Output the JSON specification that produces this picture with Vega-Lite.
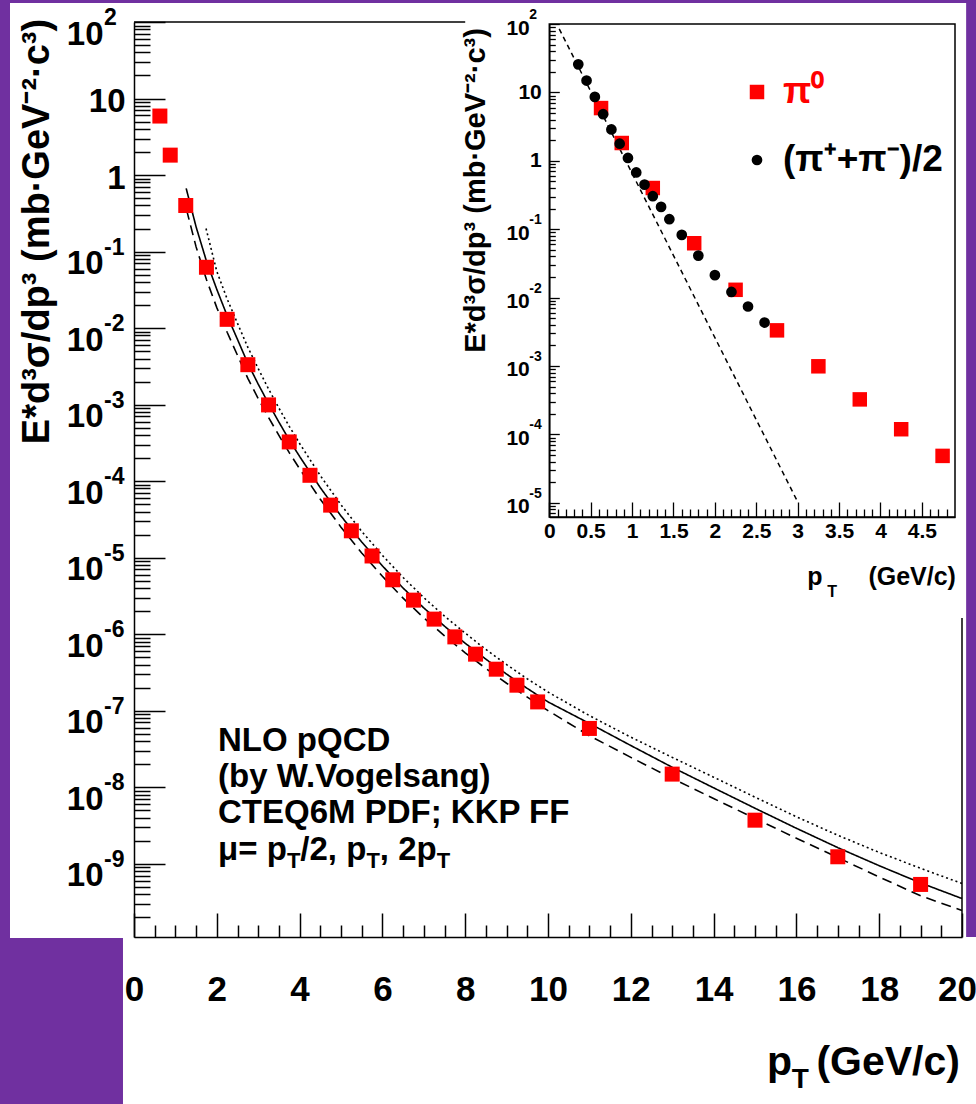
{
  "$schema": "https://vega.github.io/schema/vega-lite/v6.json",
  "width": 966,
  "height": 1101,
  "autosize": {"type": "none"},
  "padding": {"left": 10, "top": 3, "right": 0, "bottom": 0},
  "background": "#7030A0",
  "config": {
    "view": {"fill": "white", "stroke": null},
    "font": "Liberation Sans",
    "axis": {"grid": false, "labelColor": "black", "tickColor": "black", "domainColor": "black", "titleColor": "black", "labelFlush": false, "labelOverlap": false, "labelBound": false, "labelFont": "Liberation Sans", "titleFont": "Liberation Sans", "labelFontWeight": "bold", "titleFontWeight": "bold"},
    "text": {"font": "Liberation Sans", "fontWeight": "bold", "color": "black"}
  },
  "datasets": {
    "pions": [
      {"series": "π⁰", "pT": 0.625, "val": 5.9},
      {"series": "π⁰", "pT": 0.875, "val": 1.82},
      {"series": "π⁰", "pT": 1.25, "val": 0.40},
      {"series": "π⁰", "pT": 1.75, "val": 0.0623},
      {"series": "π⁰", "pT": 2.25, "val": 0.0130},
      {"series": "π⁰", "pT": 2.75, "val": 3.32e-3},
      {"series": "π⁰", "pT": 3.25, "val": 9.9e-4},
      {"series": "π⁰", "pT": 3.75, "val": 3.25e-4},
      {"series": "π⁰", "pT": 4.25, "val": 1.19e-4},
      {"series": "π⁰", "pT": 4.75, "val": 4.85e-5},
      {"series": "π⁰", "pT": 5.25, "val": 2.24e-5},
      {"series": "π⁰", "pT": 5.75, "val": 1.05e-5},
      {"series": "π⁰", "pT": 6.25, "val": 5.13e-6},
      {"series": "π⁰", "pT": 6.75, "val": 2.78e-6},
      {"series": "π⁰", "pT": 7.25, "val": 1.57e-6},
      {"series": "π⁰", "pT": 7.75, "val": 9.2e-7},
      {"series": "π⁰", "pT": 8.25, "val": 5.47e-7},
      {"series": "π⁰", "pT": 8.75, "val": 3.48e-7},
      {"series": "π⁰", "pT": 9.25, "val": 2.15e-7},
      {"series": "π⁰", "pT": 9.75, "val": 1.3e-7},
      {"series": "π⁰", "pT": 11, "val": 5.85e-8},
      {"series": "π⁰", "pT": 13, "val": 1.48e-8},
      {"series": "π⁰", "pT": 15, "val": 3.7e-9},
      {"series": "π⁰", "pT": 17, "val": 1.23e-9},
      {"series": "π⁰", "pT": 19, "val": 5.35e-10},
      {"series": "(π⁺+π⁻)/2", "pT": 0.35, "val": 25.7},
      {"series": "(π⁺+π⁻)/2", "pT": 0.45, "val": 14.9},
      {"series": "(π⁺+π⁻)/2", "pT": 0.55, "val": 8.59},
      {"series": "(π⁺+π⁻)/2", "pT": 0.65, "val": 4.80},
      {"series": "(π⁺+π⁻)/2", "pT": 0.75, "val": 2.87},
      {"series": "(π⁺+π⁻)/2", "pT": 0.85, "val": 1.78},
      {"series": "(π⁺+π⁻)/2", "pT": 0.95, "val": 1.10},
      {"series": "(π⁺+π⁻)/2", "pT": 1.05, "val": 0.676},
      {"series": "(π⁺+π⁻)/2", "pT": 1.15, "val": 0.448},
      {"series": "(π⁺+π⁻)/2", "pT": 1.25, "val": 0.304},
      {"series": "(π⁺+π⁻)/2", "pT": 1.35, "val": 0.212},
      {"series": "(π⁺+π⁻)/2", "pT": 1.45, "val": 0.140},
      {"series": "(π⁺+π⁻)/2", "pT": 1.6, "val": 0.0826},
      {"series": "(π⁺+π⁻)/2", "pT": 1.8, "val": 0.0411},
      {"series": "(π⁺+π⁻)/2", "pT": 2.0, "val": 0.0213},
      {"series": "(π⁺+π⁻)/2", "pT": 2.2, "val": 0.0121},
      {"series": "(π⁺+π⁻)/2", "pT": 2.4, "val": 7.41e-3},
      {"series": "(π⁺+π⁻)/2", "pT": 2.6, "val": 4.32e-3}
    ],
    "nlo": [
      {"mu": "pT", "pT": 1.26, "val": 0.67},
      {"mu": "pT", "pT": 1.5, "val": 0.21},
      {"mu": "pT", "pT": 1.75, "val": 0.075},
      {"mu": "pT", "pT": 2, "val": 0.032},
      {"mu": "pT", "pT": 2.25, "val": 0.0145},
      {"mu": "pT", "pT": 2.5, "val": 0.0071},
      {"mu": "pT", "pT": 2.75, "val": 3.45e-3},
      {"mu": "pT", "pT": 3, "val": 1.85e-3},
      {"mu": "pT", "pT": 3.25, "val": 1.03e-3},
      {"mu": "pT", "pT": 3.5, "val": 5.9e-4},
      {"mu": "pT", "pT": 3.75, "val": 3.45e-4},
      {"mu": "pT", "pT": 4, "val": 2.1e-4},
      {"mu": "pT", "pT": 4.5, "val": 8.2e-5},
      {"mu": "pT", "pT": 5, "val": 3.5e-5},
      {"mu": "pT", "pT": 5.5, "val": 1.6e-5},
      {"mu": "pT", "pT": 6, "val": 7.8e-6},
      {"mu": "pT", "pT": 6.5, "val": 4.0e-6},
      {"mu": "pT", "pT": 7, "val": 2.2e-6},
      {"mu": "pT", "pT": 7.5, "val": 1.27e-6},
      {"mu": "pT", "pT": 8, "val": 7.6e-7},
      {"mu": "pT", "pT": 8.5, "val": 4.7e-7},
      {"mu": "pT", "pT": 9, "val": 3.0e-7},
      {"mu": "pT", "pT": 9.5, "val": 1.95e-7},
      {"mu": "pT", "pT": 10, "val": 1.3e-7},
      {"mu": "pT", "pT": 11, "val": 6.8e-8},
      {"mu": "pT", "pT": 12, "val": 3.5e-8},
      {"mu": "pT", "pT": 13, "val": 1.82e-8},
      {"mu": "pT", "pT": 14, "val": 9.8e-9},
      {"mu": "pT", "pT": 15, "val": 5.3e-9},
      {"mu": "pT", "pT": 16, "val": 2.9e-9},
      {"mu": "pT", "pT": 17, "val": 1.62e-9},
      {"mu": "pT", "pT": 18, "val": 9.4e-10},
      {"mu": "pT", "pT": 19, "val": 5.6e-10},
      {"mu": "pT", "pT": 20, "val": 3.5e-10},
      {"mu": "2pT", "pT": 1.27, "val": 0.35},
      {"mu": "2pT", "pT": 1.5, "val": 0.115},
      {"mu": "2pT", "pT": 1.75, "val": 0.043},
      {"mu": "2pT", "pT": 2, "val": 0.0185},
      {"mu": "2pT", "pT": 2.25, "val": 0.0088},
      {"mu": "2pT", "pT": 2.5, "val": 0.0044},
      {"mu": "2pT", "pT": 2.75, "val": 2.2e-3},
      {"mu": "2pT", "pT": 3, "val": 1.2e-3},
      {"mu": "2pT", "pT": 3.25, "val": 6.8e-4},
      {"mu": "2pT", "pT": 3.5, "val": 3.95e-4},
      {"mu": "2pT", "pT": 3.75, "val": 2.35e-4},
      {"mu": "2pT", "pT": 4, "val": 1.45e-4},
      {"mu": "2pT", "pT": 4.5, "val": 5.8e-5},
      {"mu": "2pT", "pT": 5, "val": 2.5e-5},
      {"mu": "2pT", "pT": 5.5, "val": 1.15e-5},
      {"mu": "2pT", "pT": 6, "val": 5.7e-6},
      {"mu": "2pT", "pT": 6.5, "val": 2.95e-6},
      {"mu": "2pT", "pT": 7, "val": 1.63e-6},
      {"mu": "2pT", "pT": 7.5, "val": 9.5e-7},
      {"mu": "2pT", "pT": 8, "val": 5.7e-7},
      {"mu": "2pT", "pT": 8.5, "val": 3.55e-7},
      {"mu": "2pT", "pT": 9, "val": 2.28e-7},
      {"mu": "2pT", "pT": 9.5, "val": 1.5e-7},
      {"mu": "2pT", "pT": 10, "val": 1.0e-7},
      {"mu": "2pT", "pT": 11, "val": 4.7e-8},
      {"mu": "2pT", "pT": 12, "val": 2.45e-8},
      {"mu": "2pT", "pT": 13, "val": 1.3e-8},
      {"mu": "2pT", "pT": 14, "val": 7.1e-9},
      {"mu": "2pT", "pT": 15, "val": 3.9e-9},
      {"mu": "2pT", "pT": 16, "val": 2.15e-9},
      {"mu": "2pT", "pT": 17, "val": 1.2e-9},
      {"mu": "2pT", "pT": 18, "val": 6.7e-10},
      {"mu": "2pT", "pT": 19, "val": 3.8e-10},
      {"mu": "2pT", "pT": 20, "val": 2.45e-10},
      {"mu": "pT/2", "pT": 1.74, "val": 0.2},
      {"mu": "pT/2", "pT": 2, "val": 0.055},
      {"mu": "pT/2", "pT": 2.25, "val": 0.024},
      {"mu": "pT/2", "pT": 2.5, "val": 0.0115},
      {"mu": "pT/2", "pT": 2.75, "val": 5.6e-3},
      {"mu": "pT/2", "pT": 3, "val": 2.95e-3},
      {"mu": "pT/2", "pT": 3.25, "val": 1.6e-3},
      {"mu": "pT/2", "pT": 3.5, "val": 9.0e-4},
      {"mu": "pT/2", "pT": 3.75, "val": 5.2e-4},
      {"mu": "pT/2", "pT": 4, "val": 3.1e-4},
      {"mu": "pT/2", "pT": 4.5, "val": 1.18e-4},
      {"mu": "pT/2", "pT": 5, "val": 4.9e-5},
      {"mu": "pT/2", "pT": 5.5, "val": 2.2e-5},
      {"mu": "pT/2", "pT": 6, "val": 1.07e-5},
      {"mu": "pT/2", "pT": 6.5, "val": 5.5e-6},
      {"mu": "pT/2", "pT": 7, "val": 3.0e-6},
      {"mu": "pT/2", "pT": 7.5, "val": 1.72e-6},
      {"mu": "pT/2", "pT": 8, "val": 1.03e-6},
      {"mu": "pT/2", "pT": 8.5, "val": 6.3e-7},
      {"mu": "pT/2", "pT": 9, "val": 4.0e-7},
      {"mu": "pT/2", "pT": 9.5, "val": 2.6e-7},
      {"mu": "pT/2", "pT": 10, "val": 1.75e-7},
      {"mu": "pT/2", "pT": 11, "val": 8.6e-8},
      {"mu": "pT/2", "pT": 12, "val": 4.5e-8},
      {"mu": "pT/2", "pT": 13, "val": 2.45e-8},
      {"mu": "pT/2", "pT": 14, "val": 1.35e-8},
      {"mu": "pT/2", "pT": 15, "val": 7.4e-9},
      {"mu": "pT/2", "pT": 16, "val": 4.1e-9},
      {"mu": "pT/2", "pT": 17, "val": 2.35e-9},
      {"mu": "pT/2", "pT": 18, "val": 1.4e-9},
      {"mu": "pT/2", "pT": 19, "val": 8.7e-10},
      {"mu": "pT/2", "pT": 20, "val": 5.5e-10}
    ],
    "fit": [
      {"pT": 0.12, "val": 85},
      {"pT": 3.0, "val": 1.03e-5}
    ],
    "expMain": [
      {"v": 100, "e": "2"}, {"v": 0.1, "e": "-1"}, {"v": 0.01, "e": "-2"}, {"v": 0.001, "e": "-3"},
      {"v": 1e-4, "e": "-4"}, {"v": 1e-5, "e": "-5"}, {"v": 1e-6, "e": "-6"}, {"v": 1e-7, "e": "-7"},
      {"v": 1e-8, "e": "-8"}, {"v": 1e-9, "e": "-9"}
    ],
    "expInset": [
      {"v": 100, "e": "2"}, {"v": 0.1, "e": "-1"}, {"v": 0.01, "e": "-2"}, {"v": 0.001, "e": "-3"},
      {"v": 1e-4, "e": "-4"}, {"v": 1e-5, "e": "-5"}
    ]
  },
  "resolve": {"scale": {"x": "independent", "y": "independent"}, "axis": {"x": "independent", "y": "independent"}},
  "layer": [
    {
      "resolve": {"axis": {"x": "independent", "y": "independent"}},
      "layer": [
        {
          "data": {"values": [{}]},
          "mark": {"type": "rule", "color": "black", "strokeWidth": 1.5},
          "encoding": {
            "x": {"datum": 0, "type": "quantitative",
              "scale": {"domain": [0, 20], "range": [124, 952], "nice": false, "zero": false},
              "axis": {"orient": "bottom", "offset": -167, "values": [0, 2, 4, 6, 8, 10, 12, 14, 16, 18, 20], "ticks": false, "domain": true, "domainWidth": 1.5, "labelFontSize": 35, "labelPadding": 52, "labelBaseline": "middle",
                "labelOffset": {"condition": {"test": "datum.value == 20", "value": -5}, "value": 0}, "format": "d", "title": null}},
            "x2": {"datum": 8.0},
            "y": {"datum": 100, "type": "quantitative",
              "scale": {"type": "log", "domain": [1.1e-10, 100], "range": [934, 19], "nice": false},
              "axis": {"orient": "left", "offset": -124, "values": [1e-9, 1e-8, 1e-7, 1e-6, 1e-5, 1e-4, 1e-3, 1e-2, 0.1, 1, 10, 100], "ticks": false, "domain": true, "domainWidth": 1.5,
                "labelExpr": "datum.value == 1 ? '1' : '10'", "labelFontSize": 33, "labelAlign": "right", "labelBaseline": "middle",
                "labelPadding": {"condition": {"test": "datum.value == 1 || datum.value == 10", "value": 9}, "value": 31},
                "labelOffset": {"condition": {"test": "datum.value == 1 || datum.value == 10", "value": 3}, "value": 12},
                "title": "E*d³σ/dp³ (mb·GeV⁻²·c³)", "titleFontSize": 38, "titleX": -97, "titleY": 228, "titleAngle": 270, "titleAlign": "center", "titleBaseline": "middle"}}
          }
        },
        {
          "data": {"values": [{}]},
          "mark": {"type": "rule", "color": "black", "strokeWidth": 1.5},
          "encoding": {
            "x": {"datum": 20, "type": "quantitative",
              "axis": {"orient": "bottom", "offset": -167, "values": [0, 2, 4, 6, 8, 10, 12, 14, 16, 18, 20], "labels": false, "domain": false, "ticks": true, "tickSize": -24, "tickWidth": 1.5, "title": null}},
            "y": {"datum": 1.1e-10, "type": "quantitative",
              "axis": {"orient": "left", "offset": -124, "values": [1e-9, 1e-8, 1e-7, 1e-6, 1e-5, 1e-4, 1e-3, 1e-2, 0.1, 1, 10, 100], "labels": false, "domain": false, "ticks": true, "tickSize": -31, "tickWidth": 1.5, "title": null}},
            "y2": {"datum": 1.62e-6}
          }
        },
        {
          "data": {"name": "nlo"},
          "mark": {"type": "line", "color": "black", "strokeWidth": 1.6},
          "encoding": {
            "x": {"field": "pT", "type": "quantitative",
              "axis": {"orient": "bottom", "offset": -167, "values": [0.5, 1, 1.5, 2.5, 3, 3.5, 4.5, 5, 5.5, 6.5, 7, 7.5, 8.5, 9, 9.5, 10.5, 11, 11.5, 12.5, 13, 13.5, 14.5, 15, 15.5, 16.5, 17, 17.5, 18.5, 19, 19.5], "labels": false, "domain": false, "ticks": true, "tickSize": -12, "tickWidth": 1.5, "title": null}},
            "y": {"field": "val", "type": "quantitative",
              "axis": {"orient": "left", "offset": -124, "values": [2e-10, 3e-10, 4e-10, 5e-10, 6e-10, 7e-10, 8e-10, 9e-10, 2e-9, 3e-9, 4e-9, 5e-9, 6e-9, 7e-9, 8e-9, 9e-9, 2e-8, 3e-8, 4e-8, 5e-8, 6e-8, 7e-8, 8e-8, 9e-8, 2e-7, 3e-7, 4e-7, 5e-7, 6e-7, 7e-7, 8e-7, 9e-7, 2e-6, 3e-6, 4e-6, 5e-6, 6e-6, 7e-6, 8e-6, 9e-6, 2e-5, 3e-5, 4e-5, 5e-5, 6e-5, 7e-5, 8e-5, 9e-5, 2e-4, 3e-4, 4e-4, 5e-4, 6e-4, 7e-4, 8e-4, 9e-4, 0.002, 0.003, 0.004, 0.005, 0.006, 0.007, 0.008, 0.009, 0.02, 0.03, 0.04, 0.05, 0.06, 0.07, 0.08, 0.09, 0.2, 0.3, 0.4, 0.5, 0.6, 0.7, 0.8, 0.9, 2, 3, 4, 5, 6, 7, 8, 9, 20, 30, 40, 50, 60, 70, 80, 90], "labels": false, "domain": false, "ticks": true, "tickSize": -16, "tickWidth": 1.5, "title": null}},
            "strokeDash": {"field": "mu", "type": "nominal", "scale": {"domain": ["pT", "2pT", "pT/2"], "range": [[1, 0], [10, 6], [2, 3]]}, "legend": null}
          }
        },
        {
          "data": {"name": "pions"},
          "transform": [{"filter": "datum.series == 'π⁰'"}],
          "mark": {"type": "square", "color": "#ff0000", "size": 225, "opacity": 1},
          "encoding": {
            "x": {"field": "pT", "type": "quantitative", "axis": null},
            "y": {"field": "val", "type": "quantitative", "axis": null}
          }
        },
        {
          "data": {"name": "expMain"},
          "mark": {"type": "text", "align": "left", "baseline": "middle", "dx": -30, "dy": -4, "fontSize": 23},
          "encoding": {
            "x": {"datum": 0, "type": "quantitative", "axis": null},
            "y": {"field": "v", "type": "quantitative", "axis": null},
            "text": {"field": "e"}
          }
        },
        {
          "data": {"values": [{}]},
          "mark": {"type": "rect", "color": "#7030A0"},
          "encoding": {
            "x": {"datum": -3.5, "type": "quantitative", "axis": null},
            "x2": {"datum": -0.266},
            "y": {"datum": 1.064e-10, "type": "quantitative", "axis": null},
            "y2": {"datum": 1e-14}
          }
        },
        {
          "data": {"values": [{}]},
          "mark": {"type": "rect", "color": "#7030A0"},
          "encoding": {
            "x": {"datum": 20.1, "type": "quantitative", "axis": null},
            "x2": {"datum": 21},
            "y": {"datum": 1.1e-10, "type": "quantitative", "axis": null},
            "y2": {"datum": 1e3}
          }
        },
        {
          "data": {"values": [{}]},
          "mark": {"type": "text", "text": ["NLO pQCD", "(by W.Vogelsang)", "CTEQ6M PDF; KKP FF"], "lineHeight": 36, "align": "left", "baseline": "alphabetic", "fontSize": 33},
          "encoding": {
            "x": {"datum": 2.029, "type": "quantitative", "axis": null},
            "y": {"datum": 2.96e-8, "type": "quantitative", "axis": null}
          }
        },
        {
          "data": {"values": [{}]},
          "mark": {"type": "text", "text": "μ= p", "align": "left", "baseline": "alphabetic", "fontSize": 33},
          "encoding": {
            "x": {"datum": 2.029, "type": "quantitative", "axis": null},
            "y": {"datum": 1.11e-9, "type": "quantitative", "axis": null}
          }
        },
        {
          "data": {"values": [{}]},
          "mark": {"type": "text", "text": "T", "align": "left", "baseline": "alphabetic", "fontSize": 22},
          "encoding": {
            "x": {"datum": 3.693, "type": "quantitative", "axis": null},
            "y": {"datum": 8.77e-10, "type": "quantitative", "axis": null}
          }
        },
        {
          "data": {"values": [{}]},
          "mark": {"type": "text", "text": "/2, p", "align": "left", "baseline": "alphabetic", "fontSize": 33},
          "encoding": {
            "x": {"datum": 4.017, "type": "quantitative", "axis": null},
            "y": {"datum": 1.11e-9, "type": "quantitative", "axis": null}
          }
        },
        {
          "data": {"values": [{}]},
          "mark": {"type": "text", "text": "T", "align": "left", "baseline": "alphabetic", "fontSize": 22},
          "encoding": {
            "x": {"datum": 5.614, "type": "quantitative", "axis": null},
            "y": {"datum": 8.77e-10, "type": "quantitative", "axis": null}
          }
        },
        {
          "data": {"values": [{}]},
          "mark": {"type": "text", "text": ", 2p", "align": "left", "baseline": "alphabetic", "fontSize": 33},
          "encoding": {
            "x": {"datum": 5.937, "type": "quantitative", "axis": null},
            "y": {"datum": 1.11e-9, "type": "quantitative", "axis": null}
          }
        },
        {
          "data": {"values": [{}]},
          "mark": {"type": "text", "text": "T", "align": "left", "baseline": "alphabetic", "fontSize": 22},
          "encoding": {
            "x": {"datum": 7.312, "type": "quantitative", "axis": null},
            "y": {"datum": 8.77e-10, "type": "quantitative", "axis": null}
          }
        },
        {
          "data": {"values": [{}]},
          "mark": {"type": "text", "text": "p", "align": "left", "baseline": "alphabetic", "fontSize": 41},
          "encoding": {
            "x": {"datum": 15.29, "type": "quantitative", "axis": null},
            "y": {"datum": 1.73e-12, "type": "quantitative", "axis": null}
          }
        },
        {
          "data": {"values": [{}]},
          "mark": {"type": "text", "text": "T", "align": "left", "baseline": "alphabetic", "fontSize": 28},
          "encoding": {
            "x": {"datum": 15.89, "type": "quantitative", "axis": null},
            "y": {"datum": 1.17e-12, "type": "quantitative", "axis": null}
          }
        },
        {
          "data": {"values": [{}]},
          "mark": {"type": "text", "text": "(GeV/c)", "align": "right", "baseline": "alphabetic", "fontSize": 41},
          "encoding": {
            "x": {"datum": 19.95, "type": "quantitative", "axis": null},
            "y": {"datum": 1.73e-12, "type": "quantitative", "axis": null}
          }
        }
      ]
    },
    {
      "resolve": {"axis": {"x": "independent", "y": "independent"}},
      "layer": [
        {
          "data": {"values": [{}]},
          "mark": {"type": "rect", "filled": false, "color": "black", "strokeWidth": 1.5},
          "encoding": {
            "x": {"datum": 0, "type": "quantitative",
              "scale": {"domain": [0, 4.9], "range": [539.3, 945], "nice": false, "zero": false},
              "axis": {"orient": "bottom", "offset": -587, "values": [0, 0.5, 1, 1.5, 2, 2.5, 3, 3.5, 4, 4.5], "ticks": false, "domain": true, "domainWidth": 1.5, "labelFontSize": 21, "labelPadding": 14, "labelBaseline": "middle", "format": "~g", "title": null}},
            "x2": {"datum": 4.9},
            "y": {"datum": 6.2e-6, "type": "quantitative",
              "scale": {"type": "log", "domain": [6.2e-6, 100], "range": [514, 21], "nice": false},
              "axis": {"orient": "left", "offset": -539.3, "values": [1e-5, 1e-4, 1e-3, 1e-2, 0.1, 1, 10, 100], "ticks": false, "domain": true, "domainWidth": 1.5,
                "labelExpr": "datum.value == 1 ? '1' : '10'", "labelFontSize": 21, "labelAlign": "right", "labelBaseline": "middle",
                "labelPadding": {"condition": {"test": "datum.value == 1 || datum.value == 10", "value": 8}, "value": 20},
                "labelOffset": {"condition": {"test": "datum.value == 1 || datum.value == 10", "value": 0}, "value": 4},
                "title": "E*d³σ/dp³ (mb·GeV⁻²·c³)", "titleFontSize": 29, "titleX": -74, "titleY": 187, "titleAngle": 270, "titleAlign": "center", "titleBaseline": "middle"}},
            "y2": {"datum": 100}
          }
        },
        {
          "data": {"name": "fit"},
          "mark": {"type": "line", "color": "black", "strokeWidth": 1.5, "strokeDash": [5, 4]},
          "encoding": {
            "x": {"field": "pT", "type": "quantitative",
              "axis": {"orient": "bottom", "offset": -587, "values": [0, 0.5, 1, 1.5, 2, 2.5, 3, 3.5, 4, 4.5], "labels": false, "domain": false, "ticks": true, "tickSize": -15, "tickWidth": 1.3, "title": null}},
            "y": {"field": "val", "type": "quantitative",
              "axis": {"orient": "left", "offset": -539.3, "values": [1e-5, 1e-4, 1e-3, 1e-2, 0.1, 1, 10, 100], "labels": false, "domain": false, "ticks": true, "tickSize": -10, "tickWidth": 1.3, "title": null}}
          }
        },
        {
          "data": {"name": "pions"},
          "transform": [{"filter": "datum.pT < 4.9"}],
          "mark": {"type": "point", "filled": true, "opacity": 1},
          "encoding": {
            "x": {"field": "pT", "type": "quantitative",
              "axis": {"orient": "bottom", "offset": -587, "values": [0.1, 0.2, 0.3, 0.4, 0.6, 0.7, 0.8, 0.9, 1.1, 1.2, 1.3, 1.4, 1.6, 1.7, 1.8, 1.9, 2.1, 2.2, 2.3, 2.4, 2.6, 2.7, 2.8, 2.9, 3.1, 3.2, 3.3, 3.4, 3.6, 3.7, 3.8, 3.9, 4.1, 4.2, 4.3, 4.4, 4.6, 4.7, 4.8], "labels": false, "domain": false, "ticks": true, "tickSize": -8, "tickWidth": 1.3, "title": null}},
            "y": {"field": "val", "type": "quantitative",
              "axis": {"orient": "left", "offset": -539.3, "values": [7e-6, 8e-6, 9e-6, 2e-5, 3e-5, 4e-5, 5e-5, 6e-5, 7e-5, 8e-5, 9e-5, 2e-4, 3e-4, 4e-4, 5e-4, 6e-4, 7e-4, 8e-4, 9e-4, 0.002, 0.003, 0.004, 0.005, 0.006, 0.007, 0.008, 0.009, 0.02, 0.03, 0.04, 0.05, 0.06, 0.07, 0.08, 0.09, 0.2, 0.3, 0.4, 0.5, 0.6, 0.7, 0.8, 0.9, 2, 3, 4, 5, 6, 7, 8, 9, 20, 30, 40, 50, 60, 70, 80, 90], "labels": false, "domain": false, "ticks": true, "tickSize": -6, "tickWidth": 1.3, "title": null}},
            "color": {"field": "series", "type": "nominal",
              "scale": {"domain": ["π⁰", "(π⁺+π⁻)/2"], "range": ["#ff0000", "#000000"]},
              "legend": {"orient": "none", "legendX": 728.5, "legendY": 70.5, "title": null, "labelFontSize": 37, "labelFontWeight": "bold", "labelFont": "Liberation Sans", "labelOffset": 7.5, "rowPadding": 30, "symbolSize": 121, "symbolStrokeWidth": 0, "padding": 0, "labelLimit": 400, "labelColor": {"expr": "datum.value === 'π⁰' ? '#ff0000' : '#000000'"}}},
            "shape": {"field": "series", "type": "nominal",
              "scale": {"domain": ["π⁰", "(π⁺+π⁻)/2"], "range": ["square", "circle"]},
              "legend": {"orient": "none", "legendX": 728.5, "legendY": 70.5, "title": null, "labelFontSize": 37, "labelFontWeight": "bold", "labelFont": "Liberation Sans", "labelOffset": 7.5, "rowPadding": 30, "symbolSize": 121, "symbolStrokeWidth": 0, "padding": 0, "labelLimit": 400, "labelColor": {"expr": "datum.value === 'π⁰' ? '#ff0000' : '#000000'"}}},
            "size": {"field": "series", "type": "nominal",
              "scale": {"domain": ["π⁰", "(π⁺+π⁻)/2"], "range": [210, 115]}, "legend": null}
          }
        },
        {
          "data": {"name": "expInset"},
          "mark": {"type": "text", "align": "left", "baseline": "middle", "dx": -20, "dy": -9, "fontSize": 14},
          "encoding": {
            "x": {"datum": 0, "type": "quantitative", "axis": null},
            "y": {"field": "v", "type": "quantitative", "axis": null},
            "text": {"field": "e"}
          }
        },
        {
          "data": {"values": [{}]},
          "mark": {"type": "text", "text": "p", "align": "left", "baseline": "alphabetic", "fontSize": 25},
          "encoding": {
            "x": {"datum": 3.116, "type": "quantitative", "axis": null},
            "y": {"datum": 6.28e-7, "type": "quantitative", "axis": null}
          }
        },
        {
          "data": {"values": [{}]},
          "mark": {"type": "text", "text": "T", "align": "left", "baseline": "alphabetic", "fontSize": 16},
          "encoding": {
            "x": {"datum": 3.358, "type": "quantitative", "axis": null},
            "y": {"datum": 4.2e-7, "type": "quantitative", "axis": null}
          }
        },
        {
          "data": {"values": [{}]},
          "mark": {"type": "text", "text": "(GeV/c)", "align": "left", "baseline": "alphabetic", "fontSize": 25},
          "encoding": {
            "x": {"datum": 3.854, "type": "quantitative", "axis": null},
            "y": {"datum": 6.28e-7, "type": "quantitative", "axis": null}
          }
        }
      ]
    }
  ]
}
